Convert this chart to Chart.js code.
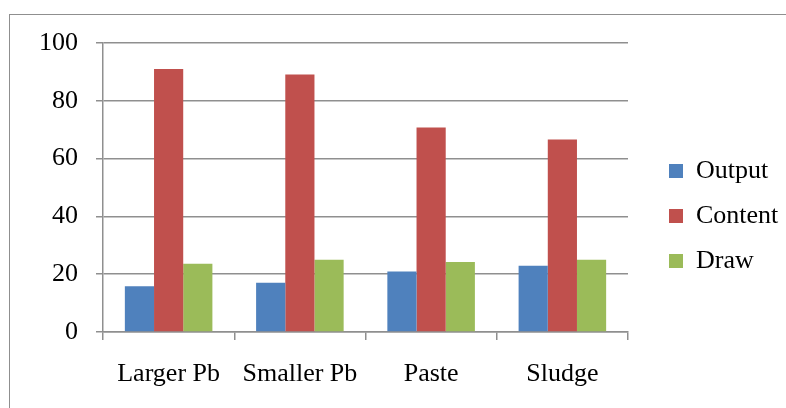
<!DOCTYPE html>
<html>
<head>
<meta charset="utf-8">
<script src="https://cdn.jsdelivr.net/npm/chart.js@4"></script>
<style>
  html, body { margin: 0; padding: 0; background: #fff; }
  #wrap { position: relative; width: 786px; height: 408px; overflow: hidden; }
  #frame { position: absolute; left: 9px; top: 14px; width: 900px; height: 500px; border: 1.5px solid #8f8f8f; box-sizing: border-box; }
  #c { position: absolute; left: 0; top: 0; }
</style>
</head>
<body>
<div id="wrap">
  <div id="frame"></div>
  <canvas id="c" width="786" height="408"></canvas>
</div>
<script>
const categories = ['Larger Pb', 'Smaller Pb', 'Paste', 'Sludge'];
const seriesNames = ['Output', 'Content', 'Draw'];
const outputValues = [15.8, 17.0, 20.9, 22.9];
const contentValues = [91.0, 89.1, 70.8, 66.6];
const drawValues = [23.6, 25.0, 24.2, 25.0];
const yTicks = [0, 20, 40, 60, 80, 100];

const colors = ['#4F81BD', '#C0504D', '#9BBB59'];
const font = { family: "'Liberation Serif', 'Times New Roman', serif", size: 26 };
const gridColor = '#8f8f8f';

new Chart(document.getElementById('c'), {
  type: 'bar',
  data: {
    labels: categories,
    datasets: [
      { label: seriesNames[0], data: outputValues, backgroundColor: colors[0] },
      { label: seriesNames[1], data: contentValues, backgroundColor: colors[1] },
      { label: seriesNames[2], data: drawValues, backgroundColor: colors[2] }
    ]
  },
  options: {
    responsive: false,
    animation: false,
    devicePixelRatio: 1,
    categoryPercentage: 0.667,
    barPercentage: 1.0,
    layout: { padding: { top: 43, left: 0, right: 6, bottom: 19 } },
    plugins: {
      tooltip: { enabled: false },
      legend: {
        position: 'right',
        labels: {
          font: font,
          color: '#000',
          boxWidth: 14,
          boxHeight: 14,
          padding: 19
        }
      }
    },
    scales: {
      x: {
        grid: { drawOnChartArea: false, drawTicks: true, tickLength: 8, color: gridColor, lineWidth: 1.5, offset: true },
        border: { display: true, color: gridColor, width: 1.5 },
        ticks: { font: font, color: '#000', padding: 19 },
        afterFit: (s) => { s.height = 57; }
      },
      y: {
        min: 0, max: 100,
        afterBuildTicks: (s) => { s.ticks = yTicks.map(v => ({ value: v })); },
        grid: { color: gridColor, lineWidth: 1.5, tickLength: 7 },
        border: { display: true, color: gridColor, width: 1.5 },
        ticks: { font: font, color: '#000', padding: 18 },
        afterFit: (s) => { s.width = 103; }
      },
      yPad: {
        type: 'linear',
        position: 'right',
        display: true,
        grid: { display: false },
        border: { display: false },
        ticks: { display: false },
        afterFit: (s) => { s.width = 22; }
      }
    }
  }
});
</script>
</body>
</html>
